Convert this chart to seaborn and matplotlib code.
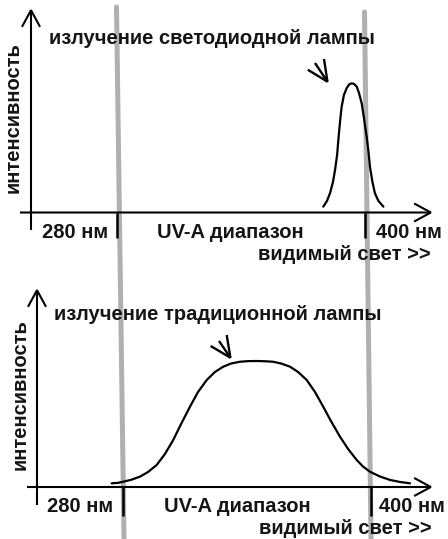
import matplotlib
matplotlib.use("Agg")
import matplotlib.pyplot as plt
import seaborn as sns
import pandas as pd
from matplotlib.lines import Line2D

# spectra: wavelength (nm) and relative intensity
led_nm = [379.8, 381.6, 383.1, 384.5, 385.5, 386.5, 387.1, 387.9, 388.7, 389.8, 391.1, 392.3, 393.6,
          394.7, 396.0, 397.1, 398.4, 399.5, 400.8, 401.7, 402.4, 403.6, 404.8, 406.5, 408.9]
led_int = [0.051, 0.095, 0.156, 0.241, 0.333, 0.448, 0.564, 0.702, 0.82, 0.91, 0.962, 0.991, 1.0,
           0.995, 0.974, 0.925, 0.846, 0.733, 0.589, 0.472, 0.358, 0.241, 0.154, 0.095, 0.051]

lamp_nm = [274.5, 277.6, 280.1, 283.9, 288.2, 292.1, 296.3, 300.3, 304.3, 308.1, 312.4, 316.3,
           320.5, 324.5, 328.5, 332.3, 336.6, 340.5, 344.7, 348.7, 352.7, 356.5, 360.8, 364.7,
           368.9, 372.9, 376.9, 380.6, 385.0, 388.9, 393.1, 396.1, 399.5, 404.4, 409.2, 414.0, 418.9]
lamp_int = [0.029, 0.033, 0.042, 0.057, 0.082, 0.119, 0.175, 0.262, 0.373, 0.5, 0.637, 0.754,
            0.849, 0.913, 0.955, 0.98, 0.994, 0.999, 1.0, 0.998, 0.994, 0.98, 0.955, 0.913,
            0.849, 0.754, 0.637, 0.524, 0.399, 0.302, 0.214, 0.163, 0.121, 0.083, 0.056, 0.04, 0.029]

tick_nm = [280, 400]
tick_labels = ["280 нм", "400 нм"]
range_label = "UV-A диапазон"
visible_label = "видимый свет >>"
y_label = "интенсивность"
titles = ["излучение светодиодной лампы", "излучение традиционной лампы"]

W, H = 448, 539

sns.set_theme(style="white")
plt.rcParams["font.family"] = ["Liberation Sans", "DejaVu Sans"]
FS = 14.5

fig = plt.figure(figsize=(W / 100, H / 100), dpi=100)
fig.patch.set_facecolor("white")


def fpos(x, y):
    # pixel position -> figure fraction
    return (x / W, 1 - y / H)


def ftext(x, y, s, **kw):
    fx, fy = fpos(x, y)
    fig.text(fx, fy, s, fontsize=FS, fontweight="bold", color="#151515", **kw)


def farrow(p0, p1, hl, hw, lw):
    fig.add_artist(matplotlib.patches.FancyArrowPatch(
        fpos(*p0), fpos(*p1), transform=fig.transFigure,
        arrowstyle=f"->,head_length={hl},head_width={hw}",
        mutation_scale=10, lw=lw, color="black", shrinkA=0, shrinkB=0,
        joinstyle="miter", capstyle="butt"))


# gray scan bands behind everything (slightly slanted in the original)
for (x0, y0), (x1, y1) in [((116.5, 7), (124, 539)), ((364.5, 12), (371, 539))]:
    a, b = fpos(x0, y0), fpos(x1, y1)
    fig.add_artist(Line2D([a[0], b[0]], [a[1], b[1]], transform=fig.transFigure,
                          color="#b0b0b0", lw=3.6, zorder=0))

panels = [
    dict(nm=led_nm, inten=led_int, title=titles[0],
         x280=117, x400=365, base=213.3, peak=83.3,
         yaxis=((31, 230), (31, 8)), xaxis=((20, 212.5), (433, 212.5)),
         tick_bottom=238, lab_y=232, lab_x=(42, 157, 376), vis=(431, 255),
         title_pos=(49, 39), ylab=(13, 118), pointer=((315, 63), (329, 84))),
    dict(nm=lamp_nm, inten=lamp_int, title=titles[1],
         x280=123, x400=371, base=487, peak=361,
         yaxis=((37, 505), (37, 288)), xaxis=((27, 487), (433, 487)),
         tick_bottom=516, lab_y=507, lab_x=(47, 164, 379), vis=(432, 528),
         title_pos=(54, 315), ylab=(20, 395), pointer=((219, 341), (232, 360))),
]

for p in panels:
    left, bottom = fpos(p["x280"], p["base"])
    ax = fig.add_axes([left, bottom, (p["x400"] - p["x280"]) / W, (p["base"] - p["peak"]) / H])
    ax.set_xlim(tick_nm[0], tick_nm[1])
    ax.set_ylim(0, 1)
    ax.axis("off")

    df = pd.DataFrame({"nm": p["nm"], "intensity": p["inten"]})
    sns.lineplot(data=df, x="nm", y="intensity", ax=ax, color="black", lw=1.6, sort=False)

    # short black ticks at 280 / 400 nm
    depth = (p["tick_bottom"] - p["base"]) / (p["base"] - p["peak"])
    ax.vlines(tick_nm, -depth, 0, color="black", lw=1.8)
    for ln in ax.lines + ax.collections:
        ln.set_clip_on(False)

    # axes with open arrow heads
    farrow(*p["xaxis"], 1.2, 0.65, 1.5)
    farrow(*p["yaxis"], 1.2, 0.65, 1.5)
    farrow(*p["pointer"], 1.5, 0.7, 1.7)

    ftext(p["lab_x"][0], p["lab_y"], tick_labels[0], ha="left", va="center")
    ftext(p["lab_x"][1], p["lab_y"], range_label, ha="left", va="center")
    ftext(p["lab_x"][2], p["lab_y"], tick_labels[1], ha="left", va="center")
    ftext(*p["vis"], visible_label, ha="right", va="center")
    ftext(*p["title_pos"], p["title"], ha="left", va="center")
    ftext(*p["ylab"], y_label, ha="center", va="center", rotation=90)

fig.savefig("out.png", dpi=100, facecolor="white")
